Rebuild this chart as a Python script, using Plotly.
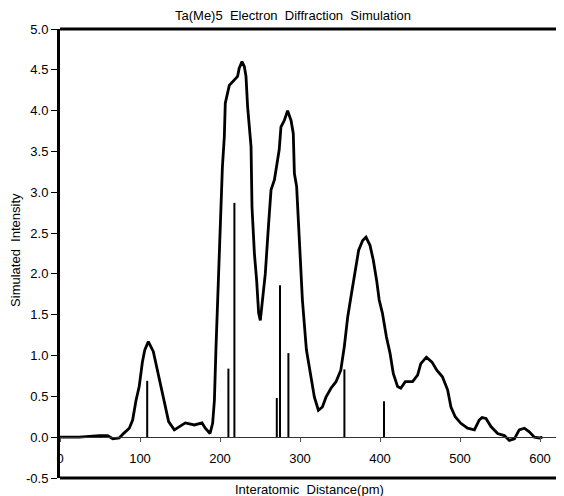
import plotly.graph_objects as go

# Simulated radial distribution curve (pm, intensity)
curve_x = [0, 24, 49, 59.5, 66, 74, 80, 86.6, 90.8, 95, 99, 103, 106, 110.4, 116.6, 120.8,
           125.4, 130.4, 135.8, 142.9, 149, 156.6, 168, 177.5, 181.6, 187.5, 190.8, 193,
           195, 198, 201, 203, 205.4, 206.6, 211.6, 215.8, 222, 224, 227.5, 230.4, 232.5,
           234.5, 238.8, 240, 243, 245.8, 248.3, 250.4, 253.3, 256.6, 260.8, 263.8, 268,
           270.8, 274, 276.2, 280.4, 284.5, 288.8, 291.6, 293, 295.8, 299, 303, 308, 313.7,
           318, 323, 328, 332.5, 338.7, 345, 351, 355.4, 359.6, 363.7, 368, 373.3, 378.3,
           382.5, 387.5, 391.6, 395.8, 399, 403, 408, 412.5, 416.6, 422, 426, 431.6, 440.7,
           447, 451, 458, 465, 471, 478, 484.5, 488.7, 494, 501, 509.5, 518, 524, 527.5,
           532.5, 538.7, 547, 555.4, 561.6, 568, 574, 580.4, 586.6, 593, 599, 603]
curve_y = [0.0, 0.0, 0.02, 0.02, -0.02, -0.01, 0.05, 0.11, 0.21, 0.45, 0.62, 0.92, 1.07, 1.17,
           1.05, 0.86, 0.66, 0.41, 0.19, 0.09, 0.13, 0.175, 0.15, 0.175, 0.11, 0.045, 0.17,
           0.45, 1.1, 2.0, 2.82, 3.31, 3.68, 4.09, 4.31, 4.35, 4.42, 4.52, 4.6, 4.54, 4.42,
           4.05, 3.56, 2.82, 2.25, 1.92, 1.52, 1.43, 1.72, 2.0, 2.62, 3.03, 3.15, 3.35, 3.52,
           3.80, 3.88, 4.0, 3.88, 3.72, 3.23, 3.07, 2.38, 1.68, 1.07, 0.74, 0.49, 0.33, 0.37,
           0.49, 0.60, 0.68, 0.82, 1.11, 1.47, 1.72, 2.0, 2.29, 2.41, 2.45, 2.35, 2.17, 1.92,
           1.68, 1.52, 1.23, 1.03, 0.78, 0.62, 0.60, 0.68, 0.68, 0.76, 0.90, 0.98, 0.92, 0.82,
           0.74, 0.58, 0.37, 0.25, 0.17, 0.11, 0.09, 0.21, 0.24, 0.23, 0.13, 0.045, 0.02,
           -0.04, -0.02, 0.09, 0.11, 0.065, 0.0, -0.01, 0.0]

# Stick spectrum: interatomic distances and relative intensities
stick_x = [109, 210.5, 218, 271, 275, 285.5, 355.5, 405]
stick_y = [0.69, 0.84, 2.87, 0.48, 1.86, 1.03, 0.83, 0.44]

x_ticks = [0, 100, 200, 300, 400, 500, 600]
y_ticks = [-0.5, 0.0, 0.5, 1.0, 1.5, 2.0, 2.5, 3.0, 3.5, 4.0, 4.5, 5.0]

title_text = "Ta(Me)5\u00a0 Electron\u00a0 Diffraction\u00a0 Simulation"
x_title = "Interatomic\u00a0 Distance(pm)"
y_title = "Simulated\u00a0 Intensity"

FONT = "Liberation Sans, Arial, Helvetica, sans-serif"
FS = 13

fig = go.Figure()

# sticks as vertical segments
sx, sy = [], []
for xv, yv in zip(stick_x, stick_y):
    sx += [xv, xv, None]
    sy += [0, yv, None]
fig.add_trace(go.Scatter(x=sx, y=sy, mode="lines",
                         line=dict(color="black", width=2), hoverinfo="skip"))

fig.add_trace(go.Scatter(x=curve_x, y=curve_y, mode="lines",
                         line=dict(color="black", width=2.8, shape="linear")))

# page body has an 8px offset; figure is sized so the plot area lands at page x 60-564, y 29-478
fig.update_layout(
    width=556, height=488,
    margin=dict(l=52, r=0, t=21, b=18),
    paper_bgcolor="white", plot_bgcolor="white",
    showlegend=False,
    font=dict(family=FONT, size=FS, color="black"),
    xaxis=dict(range=[0, 630], tickvals=x_ticks, ticktext=[str(v) for v in x_ticks],
               anchor="free", position=0.5 / 5.5,
               showline=True, linecolor="#333", linewidth=1,
               ticks="outside", ticklen=4, tickcolor="#555", tickwidth=1,
               ticklabelstandoff=5,
               showgrid=False, zeroline=False,
               tickfont=dict(size=FS, family=FONT)),
    yaxis=dict(range=[-0.5, 5.0], tickvals=y_ticks,
               ticktext=[f"{v:.1f}" for v in y_ticks],
               showline=True, linecolor="black", linewidth=3,
               ticks="outside", ticklen=6, tickcolor="black", tickwidth=1,
               showgrid=False, zeroline=False,
               tickfont=dict(size=FS, family=FONT)),
)

# top and bottom frame lines
fig.add_shape(type="line", xref="paper", yref="paper", x0=0, x1=1, y0=1, y1=1,
              line=dict(color="black", width=3))
fig.add_shape(type="line", xref="paper", yref="paper", x0=0, x1=1, y0=0, y1=0,
              line=dict(color="black", width=3))

fig.add_annotation(text=title_text, xref="paper", yref="paper", x=0.462, y=1.029,
                   showarrow=False, xanchor="center", yanchor="middle",
                   font=dict(size=FS, family=FONT))
fig.add_annotation(text=x_title, xref="paper", yref="paper", x=0.496, y=-0.0245,
                   showarrow=False, xanchor="center", yanchor="middle",
                   font=dict(size=FS, family=FONT))
fig.add_annotation(text=y_title, xref="paper", yref="paper", x=-0.0873, y=0.508,
                   showarrow=False, xanchor="center", yanchor="middle", textangle=-90,
                   font=dict(size=FS, family=FONT))

fig.write_html("out.html")
